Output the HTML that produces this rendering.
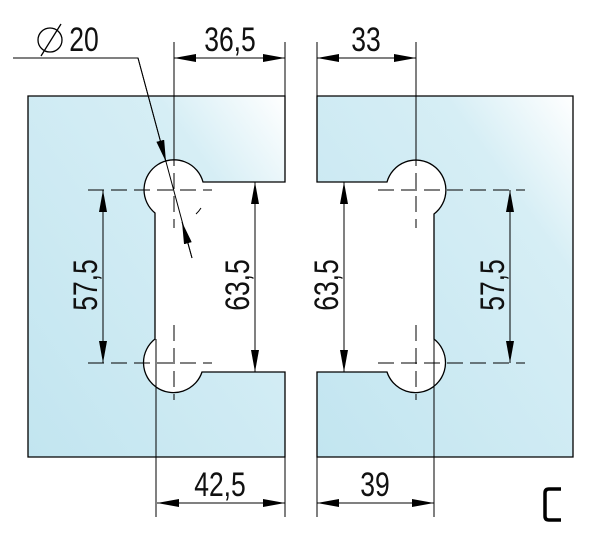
<!DOCTYPE html>
<html><head><meta charset="utf-8"><style>
html,body{margin:0;padding:0;background:#fff;}
svg{display:block;}
text{font-family:"Liberation Sans",sans-serif;font-size:34px;fill:#111;}
</style></head><body>
<svg width="600" height="541" viewBox="0 0 600 541" xmlns="http://www.w3.org/2000/svg">
<defs>
<linearGradient id="g" x1="1" y1="0" x2="0" y2="1">
<stop offset="0" stop-color="#ffffff"/>
<stop offset="0.25" stop-color="#d6eef5"/>
<stop offset="1" stop-color="#c2e5f0"/>
</linearGradient>
<marker id="a" viewBox="0 0 22 8" refX="22" refY="4" markerWidth="22" markerHeight="8" markerUnits="userSpaceOnUse" orient="auto-start-reverse"><path d="M0,0 L22,4 L0,8 Z" fill="#000"/></marker>
</defs>
<g stroke="#000" stroke-width="1.3">
<path d="M28,96 H285 V182 H203 A30,30 0 1 0 155,213 V339 A30,30 0 1 0 202,372 H285 V457 H28 Z" fill="url(#g)"/>
<path d="M317,96 H573 V457 H317 V372 H387 A30,30 0 1 0 434,339 V214 A30,30 0 1 0 387,182 H317 Z" fill="url(#g)"/>
</g>
<g stroke="#000" stroke-width="1" fill="none">
<line x1="156" y1="339" x2="156" y2="517"/>
<line x1="434" y1="339" x2="434" y2="517"/>
<line x1="174" y1="42" x2="174" y2="150"/>
<line x1="285" y1="42" x2="285" y2="96"/>
<line x1="317" y1="42" x2="317" y2="96"/>
<line x1="416" y1="42" x2="416" y2="150"/>
<line x1="285" y1="457" x2="285" y2="517"/>
<line x1="317" y1="457" x2="317" y2="517"/>
<g stroke-dasharray="16,7">
<line x1="88" y1="190" x2="212" y2="190"/>
<line x1="174" y1="150" x2="174" y2="228"/>
<line x1="88" y1="363" x2="212" y2="363"/>
<line x1="174" y1="325" x2="174" y2="400"/>
<line x1="378" y1="190" x2="525" y2="190"/>
<line x1="416" y1="150" x2="416" y2="228"/>
<line x1="378" y1="363" x2="525" y2="363"/>
<line x1="416" y1="325" x2="416" y2="400"/>
</g>
<path d="M201,208 A30,30 0 0 1 196,214"/>
<line x1="174" y1="58" x2="285" y2="58" marker-start="url(#a)" marker-end="url(#a)"/>
<line x1="317" y1="58" x2="416" y2="58" marker-start="url(#a)" marker-end="url(#a)"/>
<line x1="157" y1="503" x2="285" y2="503" marker-start="url(#a)" marker-end="url(#a)"/>
<line x1="317" y1="503" x2="434" y2="503" marker-start="url(#a)" marker-end="url(#a)"/>
<line x1="103" y1="190" x2="103" y2="363" marker-start="url(#a)" marker-end="url(#a)"/>
<line x1="510" y1="190" x2="510" y2="363" marker-start="url(#a)" marker-end="url(#a)"/>
<line x1="255" y1="182" x2="255" y2="372" marker-start="url(#a)" marker-end="url(#a)"/>
<line x1="344" y1="182" x2="344" y2="372" marker-start="url(#a)" marker-end="url(#a)"/>
<polyline points="13,58 138,58 192,258"/>
<line x1="138" y1="58" x2="166" y2="162" marker-end="url(#a)"/>
<line x1="192" y1="258" x2="182" y2="222" marker-end="url(#a)"/>
<path d="M561,489 H549 Q545,489 545,493 V516 Q545,520 549,520 H561" stroke-width="3.5"/>
</g>
<g text-anchor="middle">
<text transform="translate(230,51) scale(0.78,1)">36,5</text>
<text transform="translate(366,51) scale(0.78,1)">33</text>
<text transform="translate(220,496) scale(0.78,1)">42,5</text>
<text transform="translate(375,496) scale(0.78,1)">39</text>
<text transform="translate(84,51) scale(0.78,1)">20</text>
</g>
<g fill="none" stroke="#000" stroke-width="1.3">
<circle cx="50" cy="40" r="12"/>
<line x1="41" y1="56" x2="61" y2="24"/>
</g>
<g text-anchor="middle">
<text transform="translate(97,285) rotate(-90) scale(0.78,1)">57,5</text>
<text transform="translate(249,285) rotate(-90) scale(0.78,1)">63,5</text>
<text transform="translate(338,285) rotate(-90) scale(0.78,1)">63,5</text>
<text transform="translate(504,285) rotate(-90) scale(0.78,1)">57,5</text>
</g>
</svg>
</body></html>
